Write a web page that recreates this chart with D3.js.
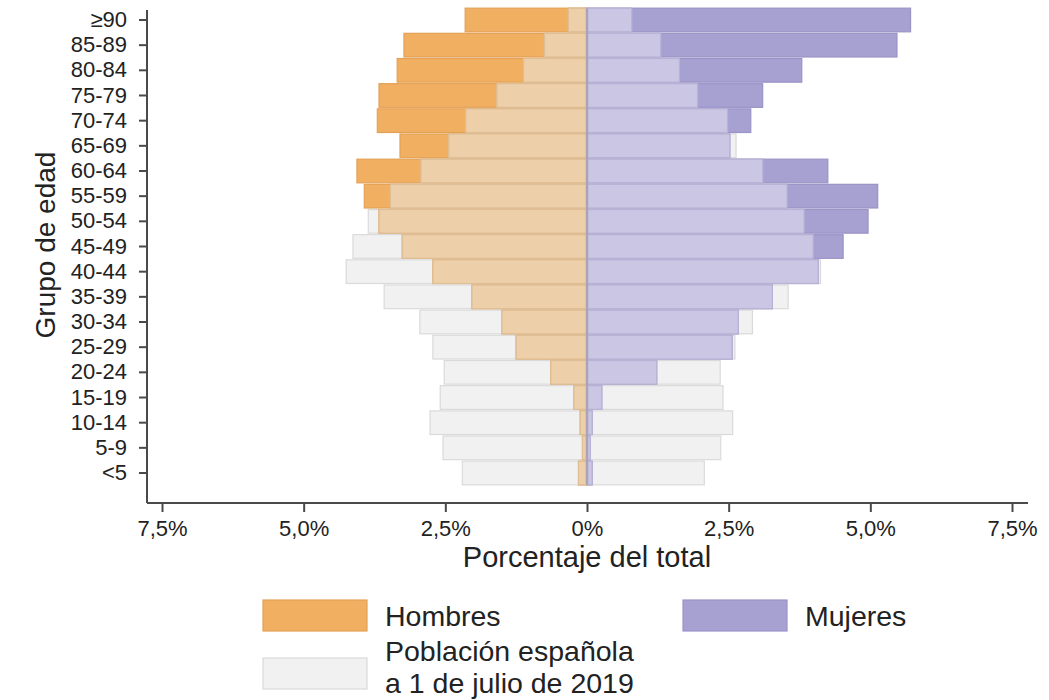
<!DOCTYPE html>
<html>
<head>
<meta charset="utf-8">
<script src="https://cdn.jsdelivr.net/npm/d3@7"></script>
<style>
  html, body { margin: 0; padding: 0; background: #fff; }
  svg { display: block; font-family: "Liberation Sans", Arial, sans-serif; }
</style>
</head>
<body>
<svg id="chart" width="1049" height="700"></svg>
<script>
const categories = ["≥90","85-89","80-84","75-79","70-74","65-69","60-64","55-59","50-54","45-49","40-44","35-39","30-34","25-29","20-24","15-19","10-14","5-9","<5"];
const menCases   = [2.15, 3.23, 3.35, 3.67, 3.70, 3.30, 4.06, 3.93, 3.67, 3.26, 2.72, 2.03, 1.50, 1.25, 0.64, 0.23, 0.12, 0.08, 0.15];
const menPop     = [0.33, 0.75, 1.12, 1.59, 2.14, 2.44, 2.93, 3.47, 3.86, 4.13, 4.25, 3.58, 2.95, 2.72, 2.52, 2.59, 2.77, 2.54, 2.20];
const womenCases = [5.71, 5.47, 3.79, 3.10, 2.89, 2.52, 4.25, 5.13, 4.96, 4.52, 4.08, 3.27, 2.67, 2.56, 1.23, 0.26, 0.09, 0.06, 0.09];
const womenPop   = [0.79, 1.30, 1.63, 1.95, 2.48, 2.63, 3.10, 3.53, 3.83, 3.99, 4.12, 3.55, 2.92, 2.61, 2.35, 2.40, 2.57, 2.36, 2.07];
const xTicks = [-7.5, -5, -2.5, 0, 2.5, 5, 7.5];
const legendLabels = ["Hombres", "Mujeres", ["Población española", "a 1 de julio de 2019"]];

const col = {
  orange: "#F1AF62", orangeS: "#E4A156",
  orangeL: "#EDCFA9", orangeLS: "#DDBE96",
  purple: "#A7A1D2", purpleS: "#9A93C6",
  purpleL: "#CAC6E3", purpleLS: "#B8B3D6",
  grey: "#F1F1F1", greyS: "#DADADA",
  axis: "#4a4a4a", text: "#222"
};

const svg = d3.select("#chart");
svg.append("rect").attr("width", 1049).attr("height", 700).attr("fill", "#fff");

const x = d3.scaleLinear().domain([-7.5, 7.5]).range([162, 1012]);
const y = d3.scaleBand().domain(categories).range([7.4, 485.6]).paddingInner(0.06).paddingOuter(0.03);

const rows = categories.map((c, i) => ({
  c, mc: menCases[i], mp: menPop[i], wc: womenCases[i], wp: womenPop[i]
}));

const g = svg.append("g");
function bars(valFn, sign, fill, stroke) {
  g.append("g").selectAll("rect").data(rows).join("rect")
    .attr("x", d => sign < 0 ? x(-valFn(d)) : x(0))
    .attr("width", d => Math.abs(x(sign * valFn(d)) - x(0)))
    .attr("y", d => y(d.c))
    .attr("height", y.bandwidth())
    .attr("fill", fill).attr("stroke", stroke).attr("stroke-width", 1.2);
}
// population (grey)
bars(d => d.mp, -1, col.grey, col.greyS);
bars(d => d.wp, 1, col.grey, col.greyS);
// cases
bars(d => d.mc, -1, col.orange, col.orangeS);
bars(d => d.wc, 1, col.purple, col.purpleS);
// overlap
bars(d => Math.min(d.mc, d.mp), -1, col.orangeL, col.orangeLS);
bars(d => Math.min(d.wc, d.wp), 1, col.purpleL, col.purpleLS);

// center line
svg.append("line")
  .attr("x1", x(0)).attr("x2", x(0))
  .attr("y1", y(categories[0])).attr("y2", y(categories[categories.length - 1]) + y.bandwidth())
  .attr("stroke", "#ABA4B6").attr("stroke-width", 2.5);

// X axis
const axisY = 503;
const xAxis = svg.append("g").attr("transform", `translate(0,${axisY})`)
  .call(d3.axisBottom(x).tickValues(xTicks).tickSize(9).tickPadding(8)
    .tickFormat(v => v === 0 ? "0%" : Math.abs(v).toFixed(1).replace(".", ",") + "%"));
xAxis.select(".domain").remove();
xAxis.append("line").attr("x1", 147).attr("x2", 1028).attr("y1", 0).attr("y2", 0)
  .attr("stroke", col.axis).attr("stroke-width", 2);
xAxis.selectAll(".tick line").attr("stroke", col.axis).attr("stroke-width", 2);
xAxis.selectAll(".tick text").attr("fill", col.text).attr("font-size", 22)
  .attr("font-family", "Liberation Sans, Arial, sans-serif");

// Y axis
const yAxis = svg.append("g").attr("transform", "translate(147,0)")
  .call(d3.axisLeft(y).tickSize(8).tickPadding(12));
yAxis.select(".domain").remove();
yAxis.append("line").attr("x1", 0).attr("x2", 0).attr("y1", 10).attr("y2", axisY)
  .attr("stroke", col.axis).attr("stroke-width", 2);
yAxis.selectAll(".tick line").attr("stroke", col.axis).attr("stroke-width", 2);
yAxis.selectAll(".tick text").attr("fill", col.text).attr("font-size", 22)
  .attr("font-family", "Liberation Sans, Arial, sans-serif");

// Axis titles
svg.append("text").attr("x", x(0)).attr("y", 567).attr("text-anchor", "middle")
  .attr("font-size", 29).attr("fill", col.text).text("Porcentaje del total");
svg.append("text").attr("transform", "translate(55,245) rotate(-90)").attr("text-anchor", "middle")
  .attr("font-size", 28).attr("fill", col.text).text("Grupo de edad");

// Legend
const leg = svg.append("g");
const sw = [
  { x: 263, y: 600, fill: col.orange, stroke: col.orangeS, label: legendLabels[0] },
  { x: 683, y: 600, fill: col.purple, stroke: col.purpleS, label: legendLabels[1] },
  { x: 263, y: 658, fill: col.grey, stroke: col.greyS, label: legendLabels[2] }
];
sw.forEach(s => {
  leg.append("rect").attr("x", s.x).attr("y", s.y).attr("width", 104).attr("height", 31)
    .attr("fill", s.fill).attr("stroke", s.stroke).attr("stroke-width", 1.2);
  const t = leg.append("text").attr("x", s.x + 122).attr("font-size", 28.5).attr("fill", col.text);
  if (Array.isArray(s.label)) {
    t.attr("y", 661);
    t.append("tspan").attr("x", s.x + 122).attr("y", 661).text(s.label[0]);
    t.append("tspan").attr("x", s.x + 122).attr("y", 693).text(s.label[1]);
  } else {
    t.attr("y", s.y + 26).text(s.label);
  }
});
</script>
</body>
</html>
